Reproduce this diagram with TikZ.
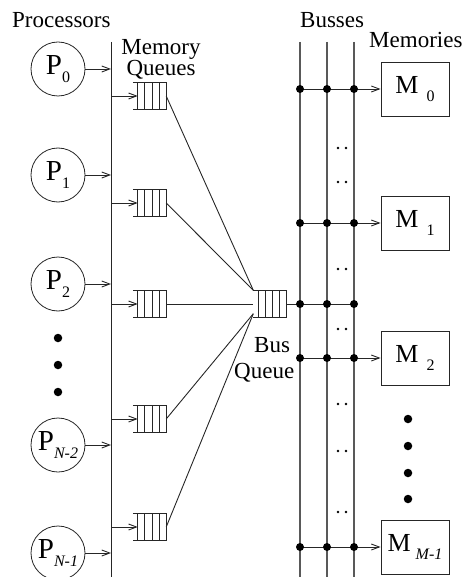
\documentclass[tikz,border=0pt]{standalone}
\usepackage{fontspec}
\setmainfont{Liberation Serif}
\usetikzlibrary{arrows.meta,calc}
\newcommand\sbs[1]{\raisebox{-8pt}{\fontsize{16}{16}\selectfont #1}}
\newcommand\qlines[1]{%
  \draw[ln] ($(#1.north west)+(-5,0)$) -- (#1.north east) -- (#1.south east) -- ($(#1.south west)+(-5,0)$);
  \foreach \f in {0,0.25,0.5,0.75}{\draw[ln] ($(#1.north west)!\f!(#1.north east)$) -- ($(#1.south west)!\f!(#1.south east)$);}
}
\tikzset{
  ln/.style={line width=0.9pt, draw=black!85},
  busln/.style={line width=1.1pt, draw=black!65},
  arr/.style={ln, -{Straight Barb[length=8pt,width=6pt,line width=0.9pt]}},
  proc/.style={circle, draw=black!85, line width=0.8pt, minimum size=54pt, inner sep=0pt, font=\fontsize{29}{29}\selectfont},
  mem/.style={rectangle, draw=black!85, line width=0.9pt, minimum width=68pt, minimum height=54pt, inner sep=0pt, font=\fontsize{26}{26}\selectfont},
  qbox/.style={rectangle, minimum width=28pt, minimum height=27pt, inner sep=0pt},
  lbl/.style={font=\fontsize{23}{23}\selectfont, inner sep=0pt, anchor=base west},
  jdot/.style={circle, fill, inner sep=0pt, minimum size=8pt},
  bigdot/.style={circle, fill, inner sep=0pt, minimum size=8.5pt},
  smalldot/.style={circle, fill, inner sep=0pt, minimum size=2.8pt},
}
\begin{document}
\begin{tikzpicture}[x=1pt,y=-1pt]
\useasboundingbox (0,0) rectangle (464,577);
\clip (0,0) rectangle (464,577);
% labels
\node[lbl] (tproc) at (12,28) {Processors};
\node[font=\fontsize{23}{19}\selectfont, inner sep=0pt, align=center] (tmq) at (161,59) {Memory\\Queues};
\node[lbl] (tbus) at (300,28) {Busses};
\node[lbl] (tmems) at (369,48) {Memories};
\node[lbl] (tbq1) at (254,352) {Bus};
\node[lbl] (tbq2) at (234,378) {Queue};
% processors
\node[proc] (p0) at (58,69) {P\sbs{0}};
\node[proc] (p1) at (58,175) {P\sbs{1}};
\node[proc] (p2) at (58,284) {P\sbs{2}};
\node[proc] (p3) at (58,445) {P\sbs{\itshape N-2}};
\node[proc] (p4) at (58,553) {P\sbs{\itshape N-1}};
\node[bigdot] (pd1) at (58,338) {};
\node[bigdot] (pd2) at (58,365) {};
\node[bigdot] (pd3) at (58,392) {};
% processor bus
\coordinate (pbt) at (111,42);
\coordinate (pbb) at (111,580);
\draw[ln] (pbt) -- (pbb);
\foreach \i in {0,...,4}{\draw[arr] (p\i.east) -- (p\i.east -| pbt);}
% memory queues
\node[qbox] (q0) at (152,96) {};
\node[qbox] (q1) at (152,203) {};
\node[qbox] (q2) at (152,304) {};
\node[qbox] (q3) at (152,419) {};
\node[qbox] (q4) at (152,527) {};
\foreach \i in {0,...,4}{\qlines{q\i}\draw[arr] (q\i.west -| pbt) -- (q\i.west);}
% bus queue
\node[qbox] (bq) at (272.5,304) {};
\qlines{bq}
\coordinate (bqa) at ($(bq.north west)+(-5,0)$);
\coordinate (bqm) at ($(bq.west)+(-5,0)$);
\coordinate (bqb) at ($(bq.south west)+(-5,-4)$);
\draw[ln] (q0.east) -- (bqa);
\draw[ln] (q1.east) -- (bqa);
\draw[ln] (q2.east) -- (bqm);
\draw[ln] (q3.east) -- (bqb);
\draw[ln] (q4.east) -- (bqb);
% busses
\coordinate (b1) at (300,42);
\coordinate (b2) at (327,42);
\coordinate (b3) at (354,42);
\foreach \b in {b1,b2,b3}{\draw[busln] (\b) -- (\b |- pbb);}
% memories
\node[mem] (m0) at (415,89) {M\hspace{8pt}\sbs{0}};
\node[mem] (m1) at (415,223) {M\hspace{8pt}\sbs{1}};
\node[mem] (m2) at (415,358) {M\hspace{8pt}\sbs{2}};
\node[mem] (m3) at (415,547) {M\hspace{5pt}\sbs{\itshape M-1}};
\foreach \i in {0,...,3}{
  \draw[arr] (m\i.west -| b1) -- (m\i.west);
  \foreach \b in {b1,b2,b3}{\node[jdot] at (m\i.west -| \b) {};}
}
\draw[ln] (bq.east) -- (bq.east -| b3);
\foreach \b in {b1,b2,b3}{\node[jdot] at (bq.east -| \b) {};}
\node[bigdot] (md1) at (408,419) {};
\node[bigdot] (md2) at (408,446) {};
\node[bigdot] (md3) at (408,473) {};
\node[bigdot] (md4) at (408,499) {};
% small dot pairs
\foreach \y in {148,182,269,329,404,451,512}{
  \node[smalldot] at (338,\y) {};
  \node[smalldot] at (346,\y) {};
}
\end{tikzpicture}
\end{document}
